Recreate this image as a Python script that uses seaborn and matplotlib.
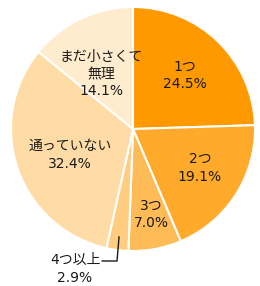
import numpy as np
import matplotlib
matplotlib.use("Agg")
import matplotlib.pyplot as plt
import seaborn as sns

sns.set_theme(style="white")
plt.rcParams['font.family'] = ['DejaVu Sans', 'Noto Sans CJK JP']

categories = ["1つ", "2つ", "3つ", "4つ以上", "通っていない", "まだ小さくて\n無理"]
values = [24.5, 19.1, 7.0, 2.9, 32.4, 14.1]
colors = ["#FF9900", "#FFAA2B", "#FFBB55", "#FFCC80", "#FFDCA6", "#FFEBCD"]
# label placement: radial fraction and angular nudge (deg) relative to wedge middle
label_r = [0.614, 0.635, 0.716, None, 0.559, 0.52]
label_da = [0.0, 2.4, 1.5, 0.0, 3.3, 4.8]

W, H = 260, 286
fig = plt.figure(figsize=(W / 100, H / 100), dpi=100)
cx, cy, R = 133, 129, 122
ax = fig.add_axes([(cx - R) / W, (H - cy - R) / H, 2 * R / W, 2 * R / H])

wedges, _ = ax.pie(values, colors=colors, startangle=90, counterclock=False,
                   radius=1.0, wedgeprops=dict(edgecolor="white", linewidth=1.5))
ax.set_xlim(-1, 1)
ax.set_ylim(-1, 1)
ax.set_aspect("equal")
ax.axis("off")

tc = "#1a1a1a"
fs = 10
ls = 1.3
for w, cat, v, r, da in zip(wedges, categories, values, label_r, label_da):
    mid = np.deg2rad((w.theta1 + w.theta2) / 2 + da)
    txt = f"{cat}\n{v:.1f}%"
    if r is not None:
        ax.text(r * np.cos(mid), r * np.sin(mid), txt, ha="center", va="center",
                fontsize=fs, color=tc, linespacing=ls, clip_on=False)
    else:
        sx, sy = 0.89 * np.cos(mid), 0.89 * np.sin(mid)
        kx, ky = -0.131, -1.082
        ex = -0.254
        ax.plot([sx, kx, ex], [sy, ky, ky], color=tc, lw=1.0, clip_on=False)
        ax.text(-0.475, ky - 0.065, txt, ha="center", va="center",
                fontsize=fs, color=tc, linespacing=ls, clip_on=False)

fig.savefig("out.png", dpi=100)
